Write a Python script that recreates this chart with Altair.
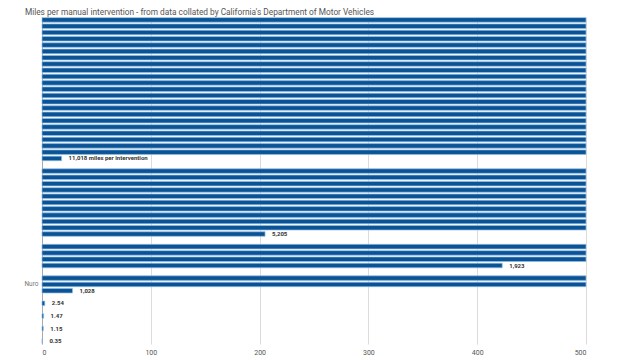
import altair as alt
import pandas as pd

companies = ["Waymo", "GM Cruise", "Zoox", "Nuro", "Mercedes-Benz", "Valeo", "Apple", "Uber"]
miles_per_intervention = [11018, 5205, 1923, 1028, 2.54, 1.47, 1.15, 0.35]
value_labels = ["11,018 miles per intervention", "5,205", "1,923", "1,028", "2.54", "1.47", "1.15", "0.35"]
shown_company = "Nuro"
row_length = 500
x_ticks = [0, 100, 200, 300, 400, 500]

# wrap each company's bar into rows of length 500, one blank row between companies
bar_rows = []
label_rows = []
slot = 0
label_slot = None
for name, v, lab in zip(companies, miles_per_intervention, value_labels):
    n_full = int(v // row_length)
    rem = v - n_full * row_length
    first = slot
    for _ in range(n_full):
        bar_rows.append({"slot": slot, "len": row_length, "company": name})
        slot += 1
    bar_rows.append({"slot": slot, "len": rem, "company": name})
    label_rows.append({"slot": slot, "len": rem, "label": lab})
    if name == shown_company:
        label_slot = (first + slot) // 2
    slot += 2
n_slots = slot - 1

bars_df = pd.DataFrame(bar_rows)
labels_df = pd.DataFrame(label_rows)

y_enc = alt.Y(
    "slot:O",
    scale=alt.Scale(domain=list(range(n_slots)), paddingInner=0.28, paddingOuter=0.1),
    axis=alt.Axis(
        title=None, ticks=False, labelExpr=f"datum.value == {label_slot} ? '{shown_company}' : ''",
        labelFontSize=6.5, labelColor="#777", labelPadding=4, labelFont="Roboto",
        domain=True, domainColor="#aaa", domainWidth=1, grid=False,
    ),
)
x_scale = alt.Scale(domain=[0, row_length], nice=False)

bars = alt.Chart(bars_df).mark_bar(color="#0b5394", stroke="#8fbde6", strokeWidth=0.7).encode(
    x=alt.X(
        "len:Q", scale=x_scale,
        axis=alt.Axis(
            title=None, values=x_ticks, grid=True, gridColor="#dcdcdc", domain=False, ticks=False,
            labelFontSize=7, labelColor="#555", labelFont="Roboto", labelPadding=4,
        ),
    ),
    y=y_enc,
)

texts = alt.Chart(labels_df).mark_text(
    align="left", baseline="middle", dx=7, fontSize=6, fontWeight="bold", color="#333", font="Roboto"
).encode(
    x=alt.X("len:Q", scale=x_scale),
    y=alt.Y("slot:O", scale=alt.Scale(domain=list(range(n_slots)))),
    text="label:N",
)

chart = alt.layer(bars, texts).properties(
    width=544,
    height=327,
    title=alt.TitleParams(
        "Miles per manual intervention - from data collated by California's  Department of Motor Vehicles",
        anchor="start", dx=1, offset=0, fontSize=8.3, fontWeight="normal", color="#555", font="Roboto",
    ),
    autosize=alt.AutoSizeParams(type="none"),
    padding={"left": 34, "top": 9, "right": 36, "bottom": 16},
).configure_view(stroke=None)

chart.save("out.html", embed_options={"renderer": "svg", "actions": False})
